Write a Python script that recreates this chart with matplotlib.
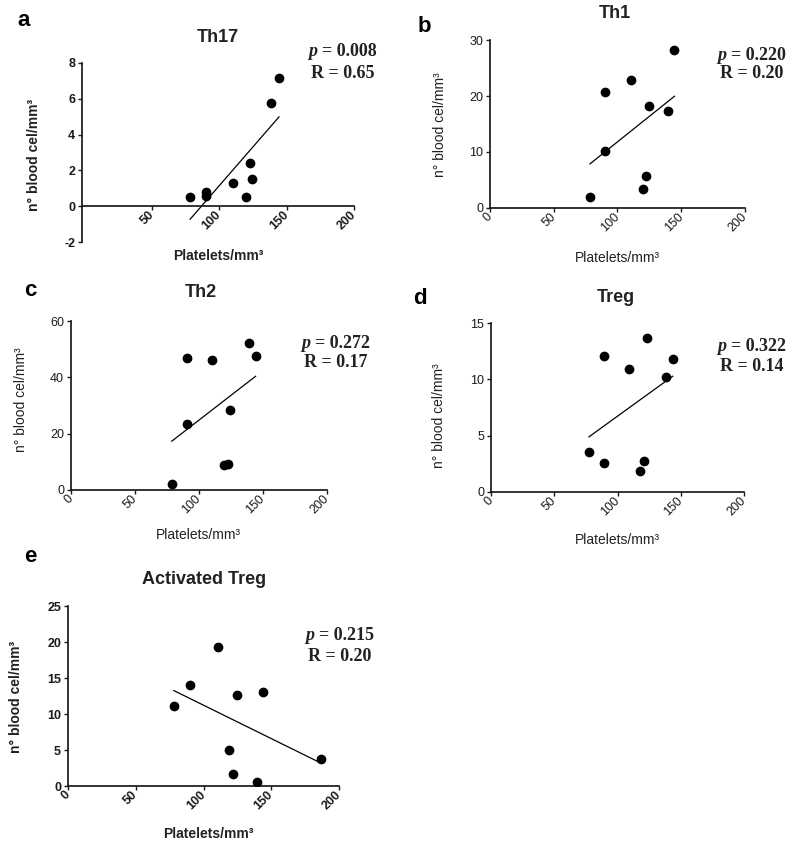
import numpy as np
import matplotlib
matplotlib.use("Agg")
import matplotlib.pyplot as plt

plt.rcParams["font.family"] = ["Liberation Sans", "DejaVu Sans"]
plt.rcParams["axes.unicode_minus"] = False

W, H = 797, 846

# data (platelets/mm3 vs n° blood cells/mm3)
th17_x = [78.3, 90.0, 90.0, 110.0, 119.5, 122.5, 124.2, 138.6, 144.3]
th17_y = [0.52, 0.80, 0.56, 1.27, 0.52, 2.42, 1.54, 5.77, 7.14]

th1_x = [78.4, 90.5, 90.5, 110.5, 120.0, 122.4, 124.7, 139.7, 144.7]
th1_y = [1.9, 20.7, 10.2, 22.8, 3.45, 5.65, 18.2, 17.35, 28.2]

th2_x = [78.7, 90.5, 90.5, 110.0, 119.2, 122.6, 123.9, 138.7, 144.2]
th2_y = [2.2, 47.0, 23.6, 46.0, 8.9, 9.1, 28.5, 52.3, 47.4]

treg_x = [77.5, 89.3, 89.3, 109.4, 117.8, 121.2, 123.6, 138.1, 143.6]
treg_y = [3.57, 2.53, 12.1, 10.9, 1.87, 2.76, 13.7, 10.25, 11.8]

atreg_x = [78.1, 90.4, 110.8, 119.0, 121.9, 124.4, 139.2, 144.1, 186.5]
atreg_y = [11.1, 14.0, 19.3, 5.05, 1.67, 12.6, 0.6, 13.1, 3.7]

titles = ["Th17", "Th1", "Th2", "Treg", "Activated Treg"]
letters = ["a", "b", "c", "d", "e"]
p_vals = ["0.008", "0.220", "0.272", "0.322", "0.215"]
r_vals = ["0.65", "0.20", "0.17", "0.14", "0.20"]
y_ticks = [[-2, 0, 2, 4, 6, 8], [0, 10, 20, 30], [0, 20, 40, 60],
           [0, 5, 10, 15], [0, 5, 10, 15, 20, 25]]
x_ticks_a = [50, 100, 150, 200]
x_ticks = [0, 50, 100, 150, 200]

fig = plt.figure(figsize=(W / 100, H / 100), dpi=100)

# layout in pixels: (x0, x1, ytop, ybot), title, letter, annotation, labels
boxes = [(82, 354, 63, 242), (490, 745, 40, 208), (71, 327, 321, 490),
         (491, 744, 323, 492), (68, 339, 606, 786)]
title_pos = [(218, 38), (615, 14), (201, 292), (616, 298), (204, 579)]
letter_pos = [(24, 20), (424, 26), (30, 291), (420, 299), (30, 557)]
annot_pos = [(343, 52, 73), (752, 56, 73), (336, 344, 362), (752, 346, 366), (340, 636, 656)]
ylab_pos = [(34, 155), (440, 125), (21, 400), (439, 416), (16, 697)]
xlab_pos = [(218, 256), (617, 258), (198, 535), (617, 540), (208, 834)]
bold = [True, False, False, False, True]

datasets = [(th17_x, th17_y), (th1_x, th1_y), (th2_x, th2_y),
            (treg_x, treg_y), (atreg_x, atreg_y)]

for i, (xs, ys) in enumerate(datasets):
    x0, x1, yt, yb = boxes[i]
    ax = fig.add_axes([x0 / W, 1 - yb / H, (x1 - x0) / W, (yb - yt) / H])
    xs = np.array(xs)
    ys = np.array(ys)
    ax.scatter(xs, ys, s=36, color="black", zorder=3)
    k, b = np.polyfit(xs, ys, 1)
    lx = np.array([xs.min(), xs.max()])
    ax.plot(lx, k * lx + b, color="black", lw=0.9)

    yt_ = y_ticks[i]
    ax.set_ylim(yt_[0], yt_[-1])
    ax.set_yticks(yt_)
    if i == 0:
        ax.set_xlim(-2, 200)
        ax.set_xticks(x_ticks_a)
        ax.spines["bottom"].set_position(("data", 0))
    else:
        ax.set_xlim(0, 200)
        ax.set_xticks(x_ticks)
    for s in ["top", "right"]:
        ax.spines[s].set_visible(False)
    for s in ["left", "bottom"]:
        ax.spines[s].set_linewidth(1.2)
        ax.spines[s].set_color("#111111")
    fw = "bold" if bold[i] else "normal"
    ax.tick_params(length=3, width=1, pad=2, labelsize=9, colors="#1a1a1a")
    plt.setp(ax.get_xticklabels(), rotation=45, ha="right", va="center",
             rotation_mode="anchor", fontweight=fw)
    plt.setp(ax.get_yticklabels(), fontweight=fw)
    ax.patch.set_alpha(0)

    tx, ty = title_pos[i]
    fig.text(tx / W, 1 - ty / H, titles[i], ha="center", va="center",
             fontsize=13, fontweight="bold", color="#222222")
    lx_, ly_ = letter_pos[i]
    fig.text(lx_ / W, 1 - ly_ / H, letters[i], ha="center", va="center",
             fontsize=16, fontweight="bold")

    ax_, py, ry = annot_pos[i]
    t = fig.text(ax_ / W + 0.008, 1 - py / H, "= " + p_vals[i], ha="center", va="center",
                 fontsize=13, fontweight="bold", family="Liberation Serif", color="#222222")
    ax.annotate("p ", xy=(0, 0.5), xycoords=t, ha="right", va="center",
                fontsize=13, fontweight="bold", style="italic",
                family="Liberation Serif", color="#222222", annotation_clip=False)
    fig.text(ax_ / W, 1 - ry / H, "R = " + r_vals[i], ha="center", va="center",
             fontsize=13, fontweight="bold", family="Liberation Serif", color="#222222")

    yx, yy = ylab_pos[i]
    fig.text(yx / W, 1 - yy / H, "n° blood cel/mm³", rotation=90, ha="center",
             va="center", fontsize=10, fontweight=fw, color="#222222")
    xx, xy = xlab_pos[i]
    fig.text(xx / W, 1 - xy / H, "Platelets/mm³", ha="center", va="center",
             fontsize=10, fontweight=fw, color="#222222")

fig.savefig("out.png", dpi=100)
